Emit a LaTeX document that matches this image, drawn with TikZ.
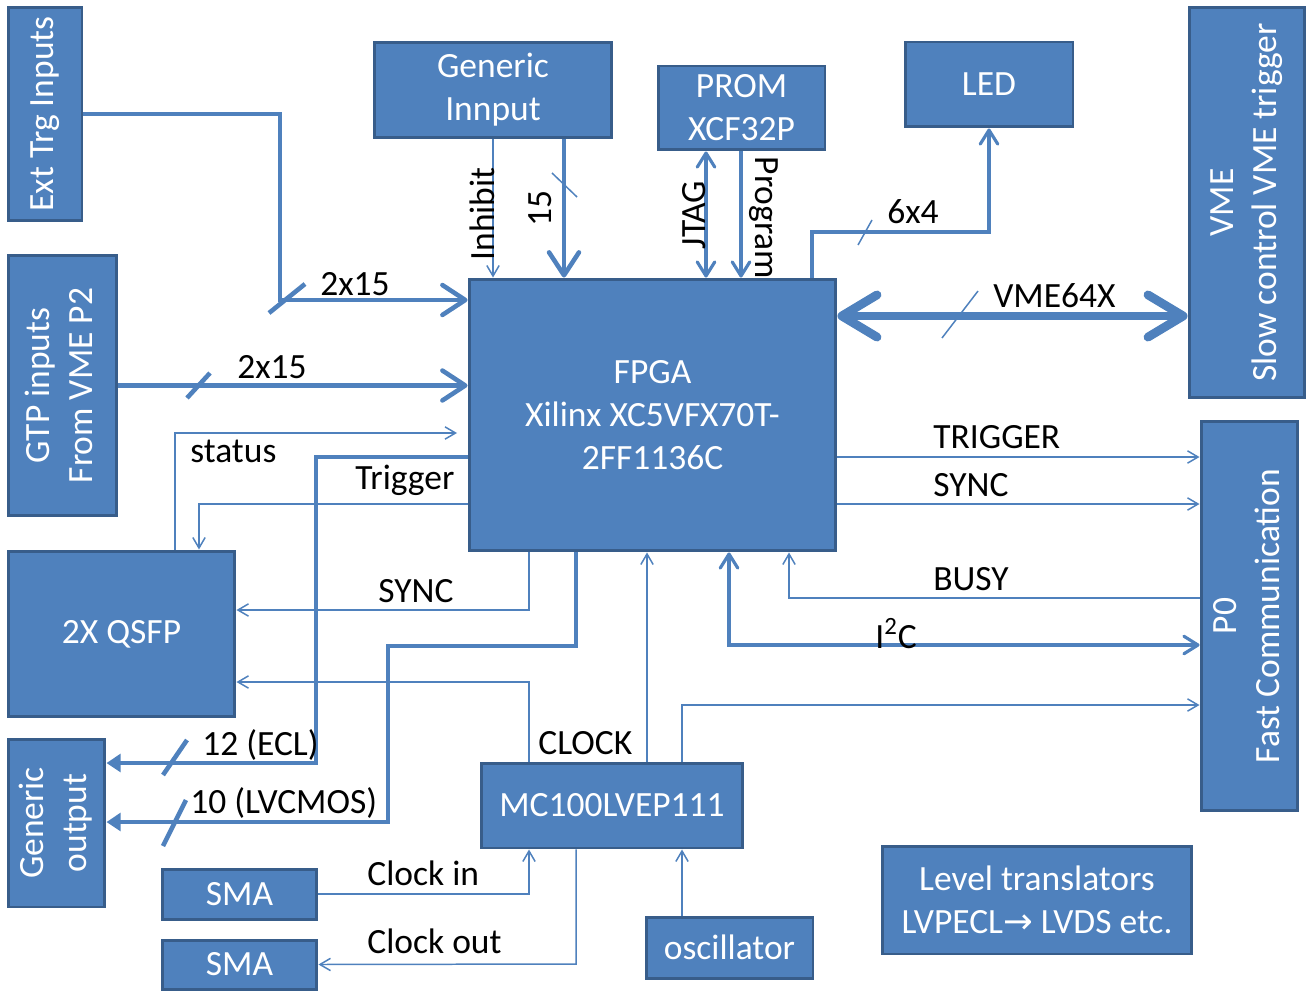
\documentclass[tikz,border=0pt]{standalone}
\usepackage{fontspec}
\setmainfont{Carlito}
\newfontfamily\djv{DejaVu Sans}
\usetikzlibrary{arrows.meta}
\definecolor{fillc}{HTML}{4F81BD}
\definecolor{bordc}{HTML}{385D8A}
\definecolor{linec}{HTML}{4F81BD}
\begin{document}
\begin{tikzpicture}[x=0.02cm,y=-0.02cm,
  font=\fontsize{20.2}{24.5}\selectfont,
  box/.style={draw=bordc, fill=fillc, line width=1.7pt, text=white, align=center, inner sep=0pt},
  lthin/.style={draw=linec, line width=0.85pt},
  lmed/.style={draw=linec, line width=1.8pt},
  lthick/.style={draw=linec, line width=2.6pt},
  lvme/.style={draw=linec, line width=5pt},
  slash/.style={draw=linec, line width=0.85pt},
  tn/.style={-{Straight Barb[length=6pt,width=7pt]}},
  tm/.style={-{Straight Barb[length=8pt,width=10pt,round]}},
  tmm/.style={{Straight Barb[length=8pt,width=10pt,round]}-{Straight Barb[length=8pt,width=10pt,round]}},
  tk/.style={-{Straight Barb[length=13pt,width=17pt,round]}},
  ttri/.style={-{Triangle[length=8pt,width=10pt]}},
  tvv/.style={{Straight Barb[length=20pt,width=24pt,round]}-{Straight Barb[length=20pt,width=24pt,round]}},
  lbl/.style={anchor=base west, inner sep=0pt, text=black},
  rlbl/.style={anchor=center, inner sep=0pt, text=black}
]
\useasboundingbox (0,0) rectangle (1307,993);

% boxes
\node[box, minimum width=1.48cm, minimum height=4.28cm] (ext) at (45,114) {\rotatebox{90}{Ext Trg Inputs}};
\node[box, minimum width=2.18cm, minimum height=5.22cm] (gtp) at (62.5,385.5) {\rotatebox{90}{\begin{tabular}{@{}c@{}}GTP inputs\\From VME P2\end{tabular}}};
\node[box, minimum width=4.76cm, minimum height=1.92cm] (gen) at (493,90) {Generic\\Innput};
\node[box, minimum width=3.34cm, minimum height=1.68cm] (prom) at (741.5,108) {PROM\\XCF32P};
\node[box, minimum width=3.36cm, minimum height=1.70cm] (led) at (989,84.5) {LED};
\node[box, minimum width=2.30cm, minimum height=7.82cm] (vme) at (1246.5,202.5) {\rotatebox{90}{\begin{tabular}{@{}c@{}}VME\\Slow control VME trigger\end{tabular}}};
\node[box, minimum width=7.34cm, minimum height=5.44cm] (fpga) at (652.5,415) {FPGA\\Xilinx XC5VFX70T-\\2FF1136C};
\node[box, minimum width=1.92cm, minimum height=7.80cm] (p0) at (1249,616) {\rotatebox{90}{\begin{tabular}{@{}c@{}}P0\\Fast Communication\end{tabular}}};
\node[box, minimum width=4.54cm, minimum height=3.32cm] (qsfp) at (121.5,634) {2X QSFP};
\node[box, minimum width=1.94cm, minimum height=3.36cm] (gout) at (56.5,823) {\rotatebox{90}{\begin{tabular}{@{}c@{}}Generic\\output\end{tabular}}};
\node[box, minimum width=3.10cm, minimum height=1.00cm] (sma1) at (239.5,894) {SMA};
\node[box, minimum width=3.10cm, minimum height=0.98cm] (sma2) at (239.5,964.5) {SMA};
\node[box, minimum width=5.24cm, minimum height=1.70cm] (mc) at (612,805.5) {MC100LVEP111};
\node[box, minimum width=3.34cm, minimum height=1.22cm] (osc) at (729.5,947.5) {oscillator};
\node[box, minimum width=6.20cm, minimum height=2.16cm] (lvl) at (1037,900) {Level translators\\LVPECL{\djv →} LVDS etc.};

% Ext Trg -> FPGA
\draw[lthick,tk] (ext.east) -- (280,114) -- (280,300) -- (fpga.west |- 0,300);
\draw[lthick] (269,313) -- (305,284);
\node[lbl] (l2x15a) at (320,295) {2x15};
% GTP -> FPGA
\draw[lthick,tk] (gtp.east) -- (fpga.west |- gtp.east);
\draw[lthick] (187,398) -- (210,373);
\node[lbl] (l2x15b) at (237,378) {2x15};
% status
\coordinate (stend) at (457,433);
\draw[lthin,tn] (qsfp.north -| 175,0) -- (175,433) -- (stend);
\node[lbl] (lstatus) at (190,462) {status};
% Trigger
\draw[lthin,tn] (fpga.west |- 0,504) -- (199,504) -- (qsfp.north -| 199,0);
\node[lbl] (ltrig) at (355,489) {Trigger};
% ECL
\draw[lthick,ttri] (fpga.west |- 0,457) -- (316,457) -- (316,763) -- (gout.east |- 0,763);
\draw[lthick] (163,775) -- (187,740);
\node[lbl] (lecl) at (202,755) {12 (ECL)};
% LVCMOS
\draw[lthick,ttri] (fpga.south -| 576,0) -- (576,646) -- (388,646) -- (388,822) -- (gout.east |- 0,822);
\draw[lthick] (163,846) -- (186,800);
\node[lbl] (llvc) at (190,813) {10 (LVCMOS)};
% SYNC to QSFP
\draw[lthin,tn] (fpga.south -| 529,0) -- (529,610) -- (qsfp.east |- 0,610);
\node[lbl] (lsync1) at (378,602) {SYNC};
% CLOCK
\draw[lthin,tn] (mc.north -| 529,0) -- (529,682) -- (qsfp.east |- 0,682);
\node[lbl] (lclock) at (538,754) {CLOCK};
% MC -> FPGA
\draw[lthin,tn] (mc.north -| 647,0) -- (fpga.south -| 647,0);
% MC -> P0
\draw[lthin,tn] (mc.north -| 682,0) -- (682,705) -- (p0.west |- 0,705);
% I2C
\draw[lmed,tmm] (fpga.south -| 729,0) -- (729,645) -- (p0.west |- 0,645);
\node[lbl] (li2c) at (875,648) {I\textsuperscript{2}C};
% BUSY
\draw[lthin,tn] (p0.west |- 0,598) -- (789,598) -- (fpga.south -| 789,0);
\node[lbl] (lbusy) at (933,590) {BUSY};
% TRIGGER / SYNC right
\draw[lthin,tn] (fpga.east |- 0,457) -- (p0.west |- 0,457);
\node[lbl] (ltrigr) at (933,448) {TRIGGER};
\draw[lthin,tn] (fpga.east |- 0,504) -- (p0.west |- 0,504);
\node[lbl] (lsyncr) at (933,496) {SYNC};
% VME64X
\draw[lvme,tvv] (fpga.east |- 0,316) -- (vme.west |- 0,316);
\draw[slash] (942,338) -- (978,291);
\node[lbl] (lvme64) at (993,307) {VME64X};
% LED
\draw[lmed,tm] (fpga.north -| 812,0) -- (812,232) -- (989,232) -- (led.south);
\draw[slash] (858,245) -- (872,220);
\node[lbl] (l6x4) at (887,223) {6x4};
% Inhibit
\draw[lthin,tn] (gen.south) -- (fpga.north -| gen.south);
\node[rlbl, rotate=90] (linh) at (482,214) {Inhibit};
% 15
\draw[lthick,tk] (gen.south -| 564,0) -- (fpga.north -| 564,0);
\draw[slash] (552,173) -- (577,197);
\node[rlbl, rotate=90] (l15) at (540,209) {15};
% JTAG
\draw[lmed,tmm] (prom.south -| 706,0) -- (fpga.north -| 706,0);
\node[rlbl, rotate=90] (ljtag) at (694,215) {JTAG};
% Program
\draw[lmed,tm] (prom.south -| 741,0) -- (fpga.north -| 741,0);
\node[rlbl, rotate=-90] (lprog) at (764,218) {Program};
% Clock in / out
\draw[lthin,tn] (sma1.east) -- (529,894) -- (mc.south -| 529,0);
\node[lbl] (lcin) at (367,885) {Clock in};
\draw[lthin,tn] (mc.south -| 576,0) -- (576,964) -- (sma2.east);
\node[lbl] (lcout) at (367,953) {Clock out};
% oscillator
\draw[lthin,tn] (osc.north -| 682,0) -- (mc.south -| 682,0);
\end{tikzpicture}
\end{document}
